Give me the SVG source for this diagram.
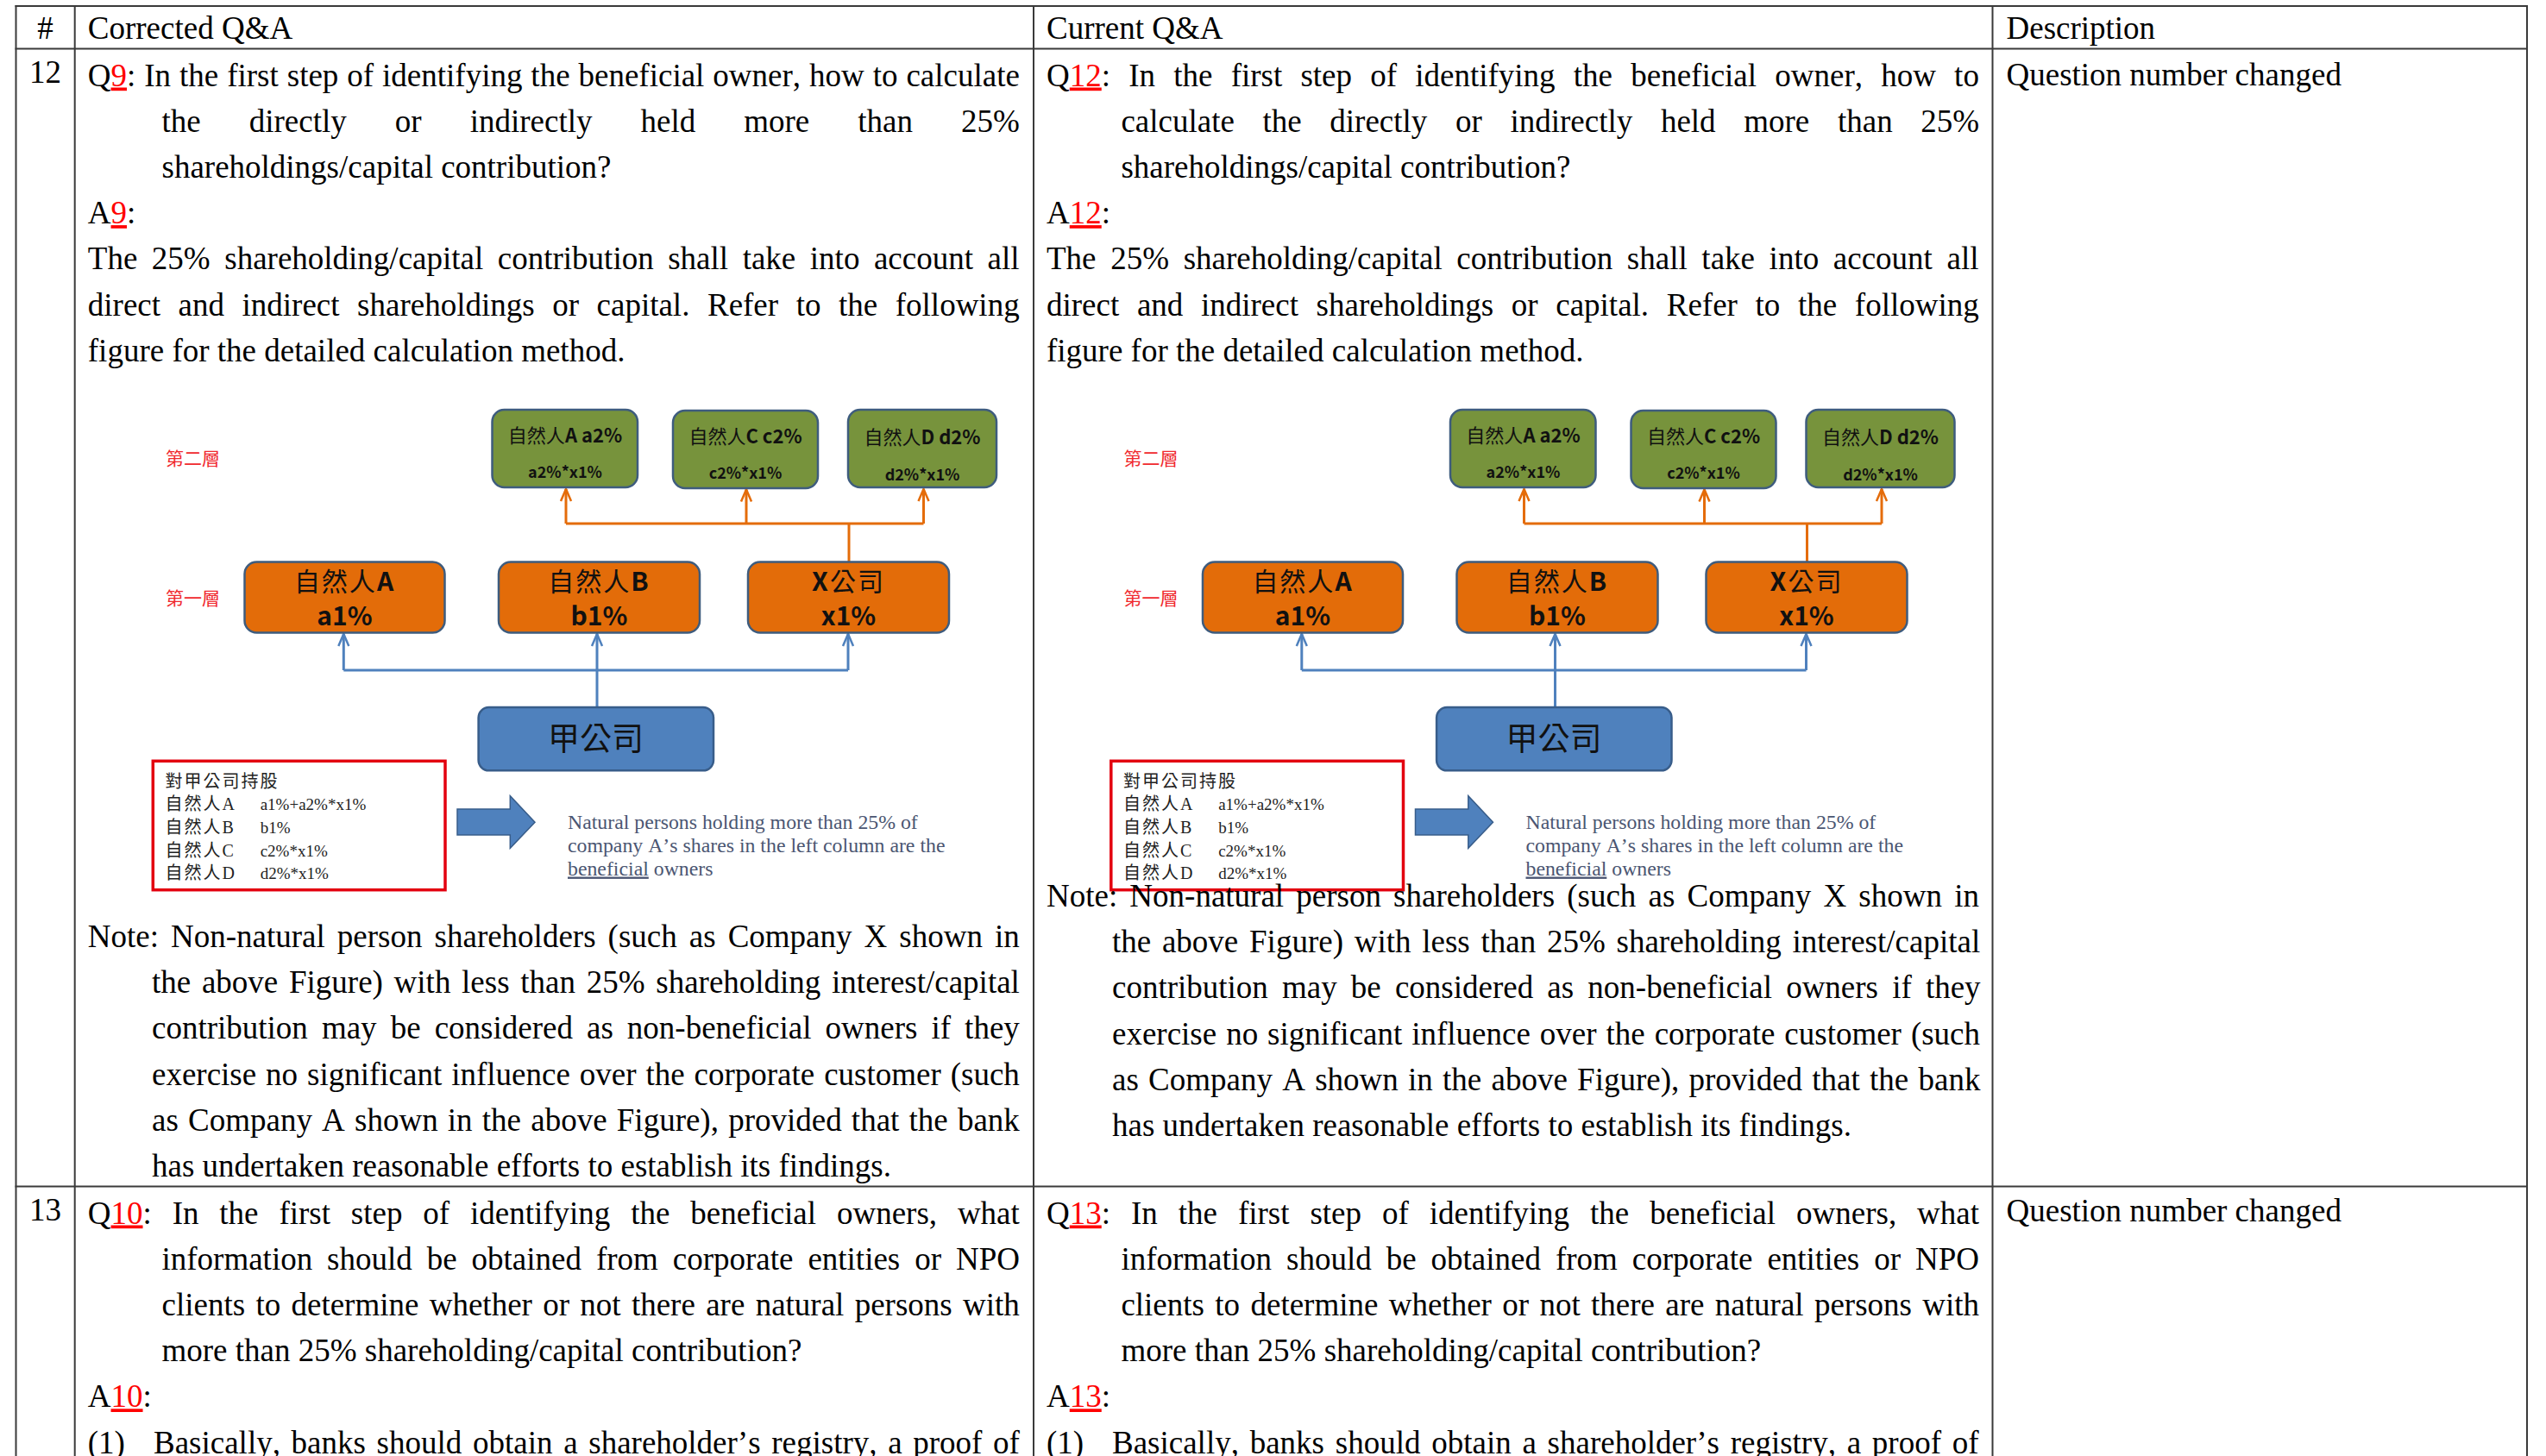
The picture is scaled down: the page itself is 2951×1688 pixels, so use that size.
<svg xmlns="http://www.w3.org/2000/svg" width="2951" height="1688" viewBox="0 0 2951 1688">
<defs>
<style>
.t{font-family:"Liberation Serif","Times New Roman",serif;font-size:37px;fill:#000;font-kerning:none;font-variant-ligatures:none}
.r{fill:#FF0000;text-decoration:underline}
.grid line{stroke:#3a3a3a;stroke-width:2}
.cjk{font-family:"Noto Sans CJK TC","Noto Sans CJK SC",sans-serif;fill:#111}
.b{font-weight:bold}
.green{fill:#77933C;stroke:#3E5C7E;stroke-width:2.5}
.orange{fill:#E36C09;stroke:#3E5C7E;stroke-width:2.5}
.blue{fill:#4F81BD;stroke:#385D8A;stroke-width:2.5}
.lay{font-family:"Noto Sans CJK TC","Noto Sans CJK SC",sans-serif;font-size:21px;fill:#F0282D}
.rb{font-family:"Noto Sans CJK TC","Noto Sans CJK SC",sans-serif;font-size:20px;fill:#222;letter-spacing:2px}
.rf{font-family:"Liberation Serif",serif;font-size:19px;fill:#222}
.np{font-family:"Liberation Serif",serif;font-size:23.8px;fill:#4B5672;font-kerning:none}
.oc{fill:none;stroke:#E46C0A;stroke-width:3}
.bc{fill:none;stroke:#4F81BD;stroke-width:3}
.redbox{fill:none;stroke:#E3000F;stroke-width:3.5}
</style>
<marker id="arrO" viewBox="-16 -8 18 16" refX="0" refY="0" markerWidth="18" markerHeight="16" markerUnits="userSpaceOnUse" orient="auto" overflow="visible"><path d="M-14,-6 L0,0 L-14,6" fill="none" stroke="#E46C0A" stroke-width="2.5"/></marker>
<marker id="arrB" viewBox="-16 -8 18 16" refX="0" refY="0" markerWidth="18" markerHeight="16" markerUnits="userSpaceOnUse" orient="auto" overflow="visible"><path d="M-14,-6 L0,0 L-14,6" fill="none" stroke="#4F81BD" stroke-width="2.5"/></marker>
</defs>
<rect width="2951" height="1688" fill="#fff"/>

<g id="table" class="grid">
<line x1="17.5" y1="7" x2="2930" y2="7"/>
<line x1="17.5" y1="56.5" x2="2930" y2="56.5"/>
<line x1="17.5" y1="1375.5" x2="2930" y2="1375.5"/>
<line x1="18.5" y1="6" x2="18.5" y2="1688"/>
<line x1="86.7" y1="6" x2="86.7" y2="1688"/>
<line x1="1198" y1="6" x2="1198" y2="1688"/>
<line x1="2309.5" y1="6" x2="2309.5" y2="1688"/>
<line x1="2929" y1="6" x2="2929" y2="1688"/>
</g>

<g id="header">
<text class="t" x="52.5" y="44.5" text-anchor="middle">#</text>
<text class="t" x="101.8" y="44.5">Corrected Q&amp;A</text>
<text class="t" x="1213" y="44.5">Current Q&amp;A</text>
<text class="t" x="2325.5" y="44.5">Description</text>
</g>

<g id="row12-meta">
<text class="t" x="52.5" y="96" text-anchor="middle">12</text>
<text class="t" x="2325.5" y="99">Question number changed</text>
</g>
<g id="row13-meta">
<text class="t" x="52.5" y="1415" text-anchor="middle">13</text>
<text class="t" x="2325.5" y="1416">Question number changed</text>
</g>

<g id="fig-left">
<g id="l-connectors">
<path class="oc" d="M984,651.5 V607"/>
<path class="oc" d="M656,607 H1070.5"/>
<path class="oc" d="M656,607 V567" marker-end="url(#arrO)"/>
<path class="oc" d="M865,607 V567.5" marker-end="url(#arrO)"/>
<path class="oc" d="M1070.5,607 V567" marker-end="url(#arrO)"/>
<path class="bc" d="M692,820 V777"/>
<path class="bc" d="M398.3,777 H983"/>
<path class="bc" d="M398.3,777 V735" marker-end="url(#arrB)"/>
<path class="bc" d="M692,777 V735" marker-end="url(#arrB)"/>
<path class="bc" d="M983,777 V735" marker-end="url(#arrB)"/>
</g>
<text class="lay" x="192" y="539">第二層</text>
<text class="lay" x="192" y="701">第一層</text>
<g id="l-g1"><rect class="green" x="570.5" y="475" width="168.5" height="90" rx="14"/>
<text class="cjk" x="655" y="513" font-size="22" text-anchor="middle">自然人<tspan class="b">A a2%</tspan></text>
<text class="cjk b" x="655" y="554" font-size="18" text-anchor="middle">a2%*x1%</text></g>
<g id="l-g2"><rect class="green" x="780" y="476" width="168" height="90" rx="14"/>
<text class="cjk" x="864" y="514" font-size="22" text-anchor="middle">自然人<tspan class="b">C c2%</tspan></text>
<text class="cjk b" x="864" y="555" font-size="18" text-anchor="middle">c2%*x1%</text></g>
<g id="l-g3"><rect class="green" x="983" y="475" width="172" height="90" rx="14"/>
<text class="cjk" x="1069" y="515" font-size="22" text-anchor="middle">自然人<tspan class="b">D d2%</tspan></text>
<text class="cjk b" x="1069" y="557" font-size="18" text-anchor="middle">d2%*x1%</text></g>
<g id="l-oa"><rect class="orange" x="283.5" y="651.5" width="232" height="82" rx="14"/>
<text class="cjk" x="399.5" y="684.5" font-size="30" letter-spacing="2" text-anchor="middle">自然人<tspan class="b">A</tspan></text>
<text class="cjk b" x="399.5" y="725" font-size="30" text-anchor="middle">a1%</text></g>
<g id="l-ob"><rect class="orange" x="578" y="651.5" width="233" height="82" rx="14"/>
<text class="cjk" x="694.5" y="684.5" font-size="30" letter-spacing="2" text-anchor="middle">自然人<tspan class="b">B</tspan></text>
<text class="cjk b" x="694.5" y="725" font-size="30" text-anchor="middle">b1%</text></g>
<g id="l-ox"><rect class="orange" x="867" y="651.5" width="233" height="82" rx="14"/>
<text class="cjk" x="983.5" y="684.5" font-size="30" letter-spacing="2" text-anchor="middle"><tspan class="b">X</tspan>公司</text>
<text class="cjk b" x="983.5" y="725" font-size="30" text-anchor="middle">x1%</text></g>
<g id="l-jia"><rect class="blue" x="554.6" y="820" width="272.4" height="73.3" rx="12"/>
<text class="cjk" x="690.5" y="870" font-size="37" text-anchor="middle">甲公司</text></g>
<g id="l-table"><rect class="redbox" x="177.3" y="882.3" width="338.7" height="149.4"/>
<text class="rb" x="191.4" y="912.5">對甲公司持股</text>
<text class="rb" x="191.4" y="939">自然人<tspan font-family="Liberation Serif">A</tspan></text><text class="rf" x="301.7" y="939">a1%+a2%*x1%</text>
<text class="rb" x="191.4" y="966">自然人<tspan font-family="Liberation Serif">B</tspan></text><text class="rf" x="301.7" y="966">b1%</text>
<text class="rb" x="191.4" y="992.5">自然人<tspan font-family="Liberation Serif">C</tspan></text><text class="rf" x="301.7" y="992.5">c2%*x1%</text>
<text class="rb" x="191.4" y="1019">自然人<tspan font-family="Liberation Serif">D</tspan></text><text class="rf" x="301.7" y="1019">d2%*x1%</text></g>
<g id="l-arrow"><polygon points="530,938 591.3,938 591.3,922.7 620,953.3 591.3,983.3 591.3,968 530,968" fill="#4F81BD" stroke="#385D8A" stroke-width="1.5"/></g>
<g id="l-note"><text class="np" x="658" y="961">Natural persons holding more than 25% of</text>
<text class="np" x="658" y="988">company A’s shares in the left column are the</text>
<text class="np" x="658" y="1014.5"><tspan text-decoration="underline">beneficial</tspan> owners</text></g>
</g>

<g id="fig-right" transform="translate(1110.5,0)">
<g id="r-connectors">
<path class="oc" d="M984,651.5 V607"/>
<path class="oc" d="M656,607 H1070.5"/>
<path class="oc" d="M656,607 V567" marker-end="url(#arrO)"/>
<path class="oc" d="M865,607 V567.5" marker-end="url(#arrO)"/>
<path class="oc" d="M1070.5,607 V567" marker-end="url(#arrO)"/>
<path class="bc" d="M692,820 V777"/>
<path class="bc" d="M398.3,777 H983"/>
<path class="bc" d="M398.3,777 V735" marker-end="url(#arrB)"/>
<path class="bc" d="M692,777 V735" marker-end="url(#arrB)"/>
<path class="bc" d="M983,777 V735" marker-end="url(#arrB)"/>
</g>
<text class="lay" x="192" y="539">第二層</text>
<text class="lay" x="192" y="701">第一層</text>
<g id="r-g1"><rect class="green" x="570.5" y="475" width="168.5" height="90" rx="14"/>
<text class="cjk" x="655" y="513" font-size="22" text-anchor="middle">自然人<tspan class="b">A a2%</tspan></text>
<text class="cjk b" x="655" y="554" font-size="18" text-anchor="middle">a2%*x1%</text></g>
<g id="r-g2"><rect class="green" x="780" y="476" width="168" height="90" rx="14"/>
<text class="cjk" x="864" y="514" font-size="22" text-anchor="middle">自然人<tspan class="b">C c2%</tspan></text>
<text class="cjk b" x="864" y="555" font-size="18" text-anchor="middle">c2%*x1%</text></g>
<g id="r-g3"><rect class="green" x="983" y="475" width="172" height="90" rx="14"/>
<text class="cjk" x="1069" y="515" font-size="22" text-anchor="middle">自然人<tspan class="b">D d2%</tspan></text>
<text class="cjk b" x="1069" y="557" font-size="18" text-anchor="middle">d2%*x1%</text></g>
<g id="r-oa"><rect class="orange" x="283.5" y="651.5" width="232" height="82" rx="14"/>
<text class="cjk" x="399.5" y="684.5" font-size="30" letter-spacing="2" text-anchor="middle">自然人<tspan class="b">A</tspan></text>
<text class="cjk b" x="399.5" y="725" font-size="30" text-anchor="middle">a1%</text></g>
<g id="r-ob"><rect class="orange" x="578" y="651.5" width="233" height="82" rx="14"/>
<text class="cjk" x="694.5" y="684.5" font-size="30" letter-spacing="2" text-anchor="middle">自然人<tspan class="b">B</tspan></text>
<text class="cjk b" x="694.5" y="725" font-size="30" text-anchor="middle">b1%</text></g>
<g id="r-ox"><rect class="orange" x="867" y="651.5" width="233" height="82" rx="14"/>
<text class="cjk" x="983.5" y="684.5" font-size="30" letter-spacing="2" text-anchor="middle"><tspan class="b">X</tspan>公司</text>
<text class="cjk b" x="983.5" y="725" font-size="30" text-anchor="middle">x1%</text></g>
<g id="r-jia"><rect class="blue" x="554.6" y="820" width="272.4" height="73.3" rx="12"/>
<text class="cjk" x="690.5" y="870" font-size="37" text-anchor="middle">甲公司</text></g>
<g id="r-table"><rect class="redbox" x="177.3" y="882.3" width="338.7" height="149.4"/>
<text class="rb" x="191.4" y="912.5">對甲公司持股</text>
<text class="rb" x="191.4" y="939">自然人<tspan font-family="Liberation Serif">A</tspan></text><text class="rf" x="301.7" y="939">a1%+a2%*x1%</text>
<text class="rb" x="191.4" y="966">自然人<tspan font-family="Liberation Serif">B</tspan></text><text class="rf" x="301.7" y="966">b1%</text>
<text class="rb" x="191.4" y="992.5">自然人<tspan font-family="Liberation Serif">C</tspan></text><text class="rf" x="301.7" y="992.5">c2%*x1%</text>
<text class="rb" x="191.4" y="1019">自然人<tspan font-family="Liberation Serif">D</tspan></text><text class="rf" x="301.7" y="1019">d2%*x1%</text></g>
<g id="r-arrow"><polygon points="530,938 591.3,938 591.3,922.7 620,953.3 591.3,983.3 591.3,968 530,968" fill="#4F81BD" stroke="#385D8A" stroke-width="1.5"/></g>
<g id="r-note"><text class="np" x="658" y="961">Natural persons holding more than 25% of</text>
<text class="np" x="658" y="988">company A’s shares in the left column are the</text>
<text class="np" x="658" y="1014.5"><tspan text-decoration="underline">beneficial</tspan> owners</text></g>
</g>

<g id="col1-text">
<text class="t" x="101.8" y="99.5" word-spacing="0.7">Q<tspan class="r">9</tspan>: In the first step of identifying the beneficial owner, how to calculate</text>
<text class="t" x="187.5" y="152.7" word-spacing="46.8">the directly or indirectly held more than 25%</text>
<text class="t" x="187.5" y="205.9">shareholdings/capital contribution?</text>
<text class="t" x="101.8" y="259.1">A<tspan class="r">9</tspan>:</text>
<text class="t" x="101.8" y="312.3" word-spacing="7.3">The 25% shareholding/capital contribution shall take into account all</text>
<text class="t" x="101.8" y="365.5" word-spacing="11.3">direct and indirect shareholdings or capital. Refer to the following</text>
<text class="t" x="101.8" y="418.7">figure for the detailed calculation method.</text>
<text class="t" x="101.8" y="1098" word-spacing="4.8">Note: Non-natural person shareholders (such as Company X shown in</text>
<text class="t" x="176" y="1151.2" word-spacing="3.46">the above Figure) with less than 25% shareholding interest/capital</text>
<text class="t" x="176" y="1204.4" word-spacing="6.8">contribution may be considered as non-beneficial owners if they</text>
<text class="t" x="176" y="1257.6" word-spacing="1.68">exercise no significant influence over the corporate customer (such</text>
<text class="t" x="176" y="1310.8" word-spacing="1.95">as Company A shown in the above Figure), provided that the bank</text>
<text class="t" x="176" y="1364">has undertaken reasonable efforts to establish its findings.</text>
<text class="t" x="101.8" y="1418.5" word-spacing="14.6">Q<tspan class="r">10</tspan>: In the first step of identifying the beneficial owners, what</text>
<text class="t" x="187.5" y="1471.7" word-spacing="7.68">information should be obtained from corporate entities or NPO</text>
<text class="t" x="187.5" y="1524.9" word-spacing="3.06">clients to determine whether or not there are natural persons with</text>
<text class="t" x="187.5" y="1578.1">more than 25% shareholding/capital contribution?</text>
<text class="t" x="101.8" y="1631.3">A<tspan class="r">10</tspan>:</text>
<text class="t" x="101.8" y="1684.5">(1)</text>
<text class="t" x="178" y="1684.5" word-spacing="3.43">Basically, banks should obtain a shareholder’s registry, a proof of</text>
</g>

<g id="col2-text">
<text class="t" x="1213" y="99.5" word-spacing="11.95">Q<tspan class="r">12</tspan>: In the first step of identifying the beneficial owner, how to</text>
<text class="t" x="1299.4" y="152.7" word-spacing="23.4">calculate the directly or indirectly held more than 25%</text>
<text class="t" x="1299.4" y="205.9">shareholdings/capital contribution?</text>
<text class="t" x="1213" y="259.1">A<tspan class="r">12</tspan>:</text>
<text class="t" x="1213" y="312.3" word-spacing="7.4">The 25% shareholding/capital contribution shall take into account all</text>
<text class="t" x="1213" y="365.5" word-spacing="11.4">direct and indirect shareholdings or capital. Refer to the following</text>
<text class="t" x="1213" y="418.7">figure for the detailed calculation method.</text>
<text class="t" x="1213" y="1051" word-spacing="4.9">Note: Non-natural person shareholders (such as Company X shown in</text>
<text class="t" x="1289" y="1104.2" word-spacing="3.5">the above Figure) with less than 25% shareholding interest/capital</text>
<text class="t" x="1289" y="1157.4" word-spacing="6.9">contribution may be considered as non-beneficial owners if they</text>
<text class="t" x="1289" y="1210.6" word-spacing="1.7">exercise no significant influence over the corporate customer (such</text>
<text class="t" x="1289" y="1263.8" word-spacing="2">as Company A shown in the above Figure), provided that the bank</text>
<text class="t" x="1289" y="1317">has undertaken reasonable efforts to establish its findings.</text>
<text class="t" x="1213" y="1418.5" word-spacing="14.7">Q<tspan class="r">13</tspan>: In the first step of identifying the beneficial owners, what</text>
<text class="t" x="1299.4" y="1471.7" word-spacing="7.7">information should be obtained from corporate entities or NPO</text>
<text class="t" x="1299.4" y="1524.9" word-spacing="3.1">clients to determine whether or not there are natural persons with</text>
<text class="t" x="1299.4" y="1578.1">more than 25% shareholding/capital contribution?</text>
<text class="t" x="1213" y="1631.3">A<tspan class="r">13</tspan>:</text>
<text class="t" x="1213" y="1684.5">(1)</text>
<text class="t" x="1289" y="1684.5" word-spacing="3.5">Basically, banks should obtain a shareholder’s registry, a proof of</text>
</g>
</svg>
